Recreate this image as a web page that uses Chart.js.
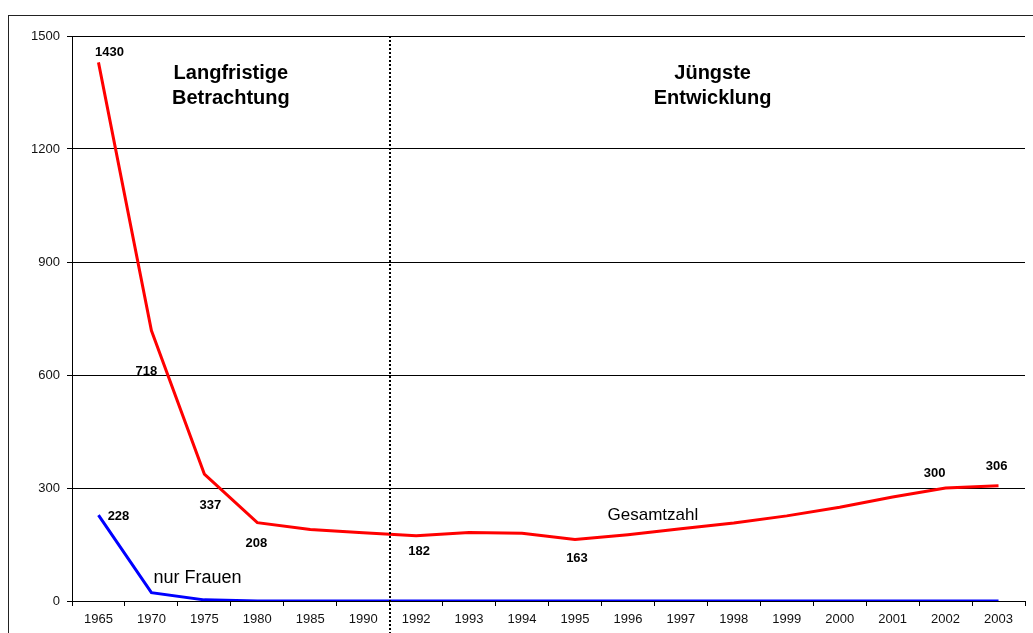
<!DOCTYPE html>
<html>
<head>
<meta charset="utf-8">
<script src="https://cdn.jsdelivr.net/npm/chart.js@4.4.0/dist/chart.umd.min.js"></script>
<style>
  html, body { margin: 0; padding: 0; background: #fff; }
  #wrap { width: 1033px; height: 633px; }
</style>
</head>
<body>
<div id="wrap"><canvas id="c" width="1033" height="633"></canvas></div>
<script>
const years = ["1965", "1970", "1975", "1980", "1985", "1990", "1992", "1993", "1994", "1995",
  "1996", "1997", "1998", "1999", "2000", "2001", "2002", "2003"];
const gesamtzahl = [1430, 718, 337, 208, 190, 181, 173, 182, 180, 163, 176, 192, 207, 226, 249, 276, 300, 306];
const nurFrauen = [228, 22, 3, 0, 0, 0, 0, 0, 0, 0, 0, 0, 0, 0, 0, 0, 0, 0];
// data labels as printed on the chart
const gesamtLabels = ["1430", "718", "337", "208", null, null, "182", null, null, "163",
  null, null, null, null, null, null, "300", "306"];
const frauenLabels = ["228", null, null, null, null, null, null, null, null, null,
  null, null, null, null, null, null, null, null];
const yTicks = [0, 300, 600, 900, 1200, 1500];

const FONT = "Arial, 'Liberation Sans', sans-serif";

// label offsets (px) relative to the point
const gesamtOffsets = [[11, -10], [-5, 41], [6, 31], [-1, 21], null, null, [3, 16], null, null, [2, 19],
  null, null, null, null, null, null, [-11, -15], [-2, -19]];
const frauenOffsets = [[20, 1]];

const extras = {
  id: "extras",
  beforeDraw(chart) {
    const ctx = chart.ctx;
    ctx.save();
    ctx.strokeStyle = "#222";
    ctx.lineWidth = 1;
    ctx.strokeRect(8.5, 15.5, 1100, 700);
    ctx.restore();
  },
  afterDatasetsDraw(chart) {
    const ctx = chart.ctx;
    const x = chart.scales.x, y = chart.scales.y;
    const area = chart.chartArea;
    ctx.save();

    // divider between long-term and recent years
    const xd = Math.round((x.getPixelForValue(5) + x.getPixelForValue(6)) / 2);
    ctx.strokeStyle = "#000";
    ctx.lineWidth = 2;
    ctx.setLineDash([2, 2]);
    ctx.beginPath();
    ctx.moveTo(xd, area.top);
    ctx.lineTo(xd, chart.height);
    ctx.stroke();
    ctx.setLineDash([]);

    // data labels
    ctx.fillStyle = "#000";
    ctx.textAlign = "center";
    ctx.textBaseline = "middle";
    ctx.font = "bold 13px " + FONT;
    gesamtLabels.forEach((t, i) => {
      if (!t) return;
      const o = gesamtOffsets[i];
      ctx.fillText(t, x.getPixelForValue(i) + o[0], y.getPixelForValue(gesamtzahl[i]) + o[1]);
    });
    frauenLabels.forEach((t, i) => {
      if (!t) return;
      const o = frauenOffsets[i];
      ctx.fillText(t, x.getPixelForValue(i) + o[0], y.getPixelForValue(nurFrauen[i]) + o[1]);
    });

    // section headings
    ctx.font = "bold 20px " + FONT;
    const xl = x.getPixelForValue(2.5);
    ctx.fillText("Langfristige", xl, area.top + 37);
    ctx.fillText("Betrachtung", xl, area.top + 62);
    const xr = x.getPixelForValue(11.6);
    ctx.fillText("Jüngste", xr, area.top + 37);
    ctx.fillText("Entwicklung", xr, area.top + 62);

    // series names
    ctx.font = "17px " + FONT;
    ctx.fillText("Gesamtzahl", x.getPixelForValue(10.0) + 25, y.getPixelForValue(228));
    ctx.font = "18px " + FONT;
    ctx.fillText("nur Frauen", x.getPixelForValue(1.4) + 25, y.getPixelForValue(60));
    ctx.restore();
  }
};

new Chart(document.getElementById("c"), {
  type: "line",
  data: {
    labels: years,
    datasets: [
      { label: "Gesamtzahl", data: gesamtzahl, borderColor: "#ff0000", borderWidth: 3, pointRadius: 0, tension: 0 },
      { label: "nur Frauen", data: nurFrauen, borderColor: "#0000ff", borderWidth: 3, pointRadius: 0, tension: 0 },
    ],
  },
  options: {
    responsive: false,
    animation: false,
    layout: { padding: { top: 36, right: 8, left: 0, bottom: 0 } },
    plugins: { legend: { display: false }, tooltip: { enabled: false } },
    scales: {
      x: {
        type: "category",
        offset: true,
        afterFit(s) { s.height = 32; },
        grid: { offset: true, drawOnChartArea: false, drawTicks: true, tickLength: 5, color: "#000" },
        border: { display: true, color: "#000", width: 1 },
        ticks: { color: "#111", font: { family: FONT, size: 13 }, padding: 6, maxRotation: 0, autoSkip: false },
      },
      y: {
        min: 0,
        max: 1500,
        afterFit(s) { s.width = 72; },
        afterBuildTicks(s) { s.ticks = yTicks.map((v) => ({ value: v })); },
        grid: { color: "#000", lineWidth: 1, tickLength: 5 },
        border: { display: true, color: "#000", width: 1 },
        ticks: { color: "#111", font: { family: FONT, size: 13 }, padding: 7, callback: (v) => String(v) },
      },
    },
  },
  plugins: [extras],
});
</script>
</body>
</html>
